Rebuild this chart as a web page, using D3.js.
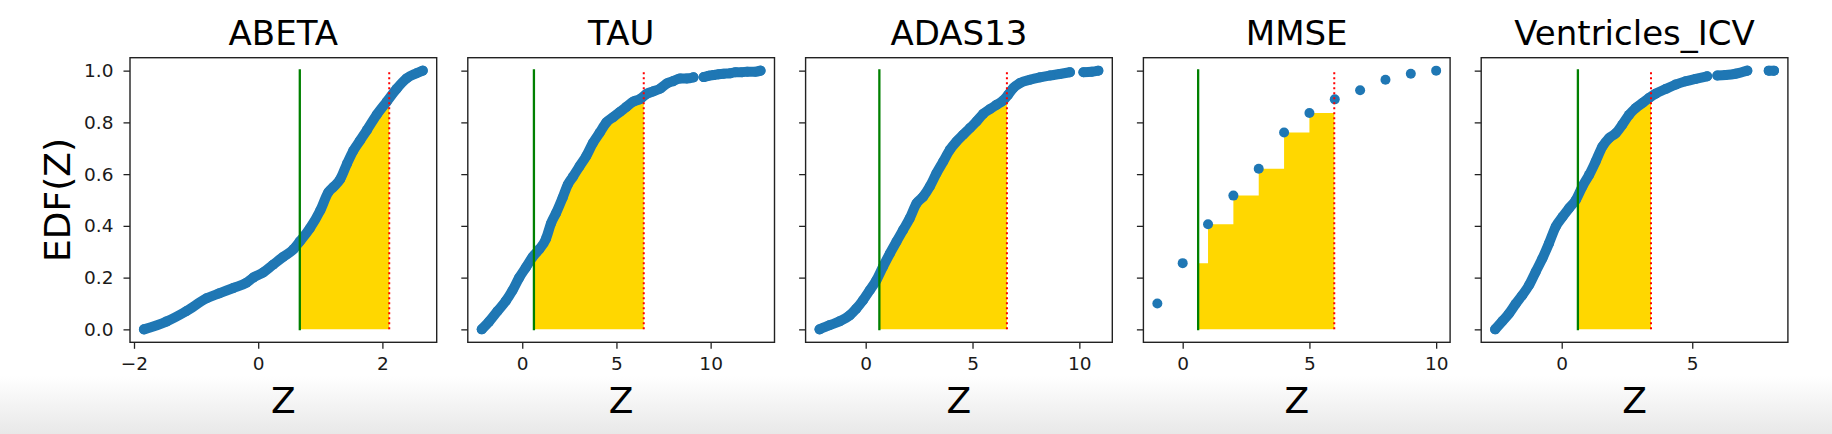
<!DOCTYPE html>
<html>
<head>
<meta charset="utf-8">
<script src="https://cdn.jsdelivr.net/npm/d3@7"></script>
<style>
body { margin: 0; background: #fff; overflow: hidden; }
svg text { font-family: "DejaVu Sans", sans-serif; }
</style>
</head>
<body>
<div class="graphHolder"></div>
<script>
const panelNames = ["ABETA", "TAU", "ADAS13", "MMSE", "Ventricles_ICV"];

const abetaZ = [-1.84, -1.48, -1.16, -0.83, -0.62, -0.40, -0.19, -0.08, 0.08, 0.24, 0.40, 0.57, 0.67, 0.83, 1.00, 1.13, 1.21, 1.32, 1.43, 1.53, 1.64, 1.75, 1.91, 2.07, 2.23, 2.39, 2.55, 2.65];
const abetaEdf = [0.00, 0.03, 0.07, 0.12, 0.14, 0.16, 0.18, 0.20, 0.22, 0.25, 0.28, 0.31, 0.34, 0.39, 0.46, 0.53, 0.55, 0.58, 0.64, 0.69, 0.73, 0.77, 0.83, 0.88, 0.93, 0.97, 0.99, 1.00];

const tauZ = [-2.15, -1.76, -1.32, -0.87, -0.52, -0.16, 0.20, 0.55, 0.91, 1.26, 1.53, 1.80, 2.15, 2.42, 2.69, 3.04, 3.40, 3.75, 4.11, 4.47, 4.82, 5.18, 5.53, 5.89, 6.25, 6.60, 6.96, 7.31, 7.67, 8.03, 8.38, 8.74, 9.09, 9.63, 9.89, 10.16, 10.43, 10.69, 11.05, 11.32, 11.67, 11.94, 12.38, 12.65];
const tauEdf = [0.00, 0.03, 0.07, 0.11, 0.15, 0.20, 0.24, 0.28, 0.31, 0.35, 0.41, 0.45, 0.51, 0.56, 0.59, 0.63, 0.67, 0.72, 0.76, 0.80, 0.82, 0.84, 0.86, 0.88, 0.89, 0.91, 0.92, 0.93, 0.95, 0.96, 0.97, 0.97, 0.974, 0.975, 0.98, 0.983, 0.986, 0.988, 0.99, 0.994, 0.994, 0.996, 0.996, 1.00];

const adasZ = [-2.16, -1.69, -1.22, -0.75, -0.44, -0.13, 0.19, 0.50, 0.81, 1.13, 1.44, 1.75, 2.06, 2.38, 2.69, 3.00, 3.31, 3.63, 3.94, 4.25, 4.56, 4.88, 5.19, 5.50, 5.81, 6.13, 6.44, 6.67, 6.91, 7.22, 7.69, 8.16, 8.63, 9.09, 9.56, 10.19, 10.58, 10.89];
const adasEdf = [0.00, 0.016, 0.031, 0.054, 0.08, 0.112, 0.151, 0.19, 0.242, 0.293, 0.339, 0.384, 0.429, 0.487, 0.513, 0.552, 0.603, 0.649, 0.694, 0.726, 0.752, 0.778, 0.804, 0.833, 0.851, 0.868, 0.885, 0.907, 0.933, 0.952, 0.965, 0.974, 0.981, 0.987, 0.994, 0.994, 0.996, 1.00];

const mmseZ = [-1, 0, 1, 2, 3, 4, 5, 6, 7, 8, 9, 10];
const mmseEdf = [0.10, 0.256, 0.406, 0.517, 0.621, 0.761, 0.836, 0.889, 0.924, 0.965, 0.988, 1.00];

const ventZ = [-2.55, -2.27, -2.02, -1.76, -1.51, -1.25, -1.00, -0.74, -0.49, -0.23, 0.03, 0.28, 0.54, 0.79, 1.05, 1.30, 1.56, 1.81, 2.07, 2.32, 2.58, 2.83, 3.09, 3.34, 3.60, 3.98, 4.36, 4.75, 5.13, 5.57, 5.96, 6.28, 6.66, 7.11, 7.93, 8.13];
const ventEdf = [0.00, 0.032, 0.061, 0.099, 0.132, 0.171, 0.222, 0.274, 0.332, 0.397, 0.435, 0.468, 0.50, 0.552, 0.597, 0.649, 0.707, 0.739, 0.758, 0.791, 0.829, 0.855, 0.875, 0.894, 0.911, 0.929, 0.946, 0.959, 0.968, 0.978, 0.981, 0.983, 0.988, 1.00, 1.00, 1.00];

const panelZ = [abetaZ, tauZ, adasZ, mmseZ, ventZ];
const panelEdf = [abetaEdf, tauEdf, adasEdf, mmseEdf, ventEdf];

// green (lower) and red dotted (upper) cut-offs
const lowerCut = [0.67, 0.62, 0.64, 0.61, 0.62];
const upperCut = [2.11, 6.45, 6.61, 5.98, 3.42];

// z values where the dot band breaks apart
const bandGaps = [[], [9.35], [9.85], [], [5.75, 7.5]];
const joinBand = [true, true, true, false, true];
const stepFill = [false, false, false, true, false];

const xTickValues = [[-2, 0, 2], [0, 5, 10], [0, 5, 10], [0, 5, 10], [0, 5]];
const yTickValues = [0, 0.2, 0.4, 0.6, 0.8, 1.0];

let w = 1832,
  h = 434,
  left0 = 130,
  top0 = 57.7,
  panelW = 306.7,
  panelH = 284.6,
  step = 337.8,
  dotR = 5,
  blue = "#1f77b4";

let svg = d3.select(".graphHolder")
  .append("svg")
  .attr("width", w)
  .attr("height", h);

// grey fade at the bottom edge of the screenshot
let grad = svg.append("defs").append("linearGradient")
  .attr("id", "fade").attr("x1", 0).attr("y1", 0).attr("x2", 0).attr("y2", 1);
grad.append("stop").attr("offset", "0%").attr("stop-color", "#ffffff");
grad.append("stop").attr("offset", "100%").attr("stop-color", "#e8e8e8");
svg.append("rect")
  .attr("x", 0).attr("y", 376)
  .attr("width", w).attr("height", h - 376)
  .attr("fill", "url(#fade)");

let yScale = d3.scaleLinear().domain([-0.05, 1.05]).range([panelH, 0]);

panelNames.forEach((name, i) => {
  let zs = panelZ[i], es = panelEdf[i];
  let pts = zs.map((z, j) => [z, es[j]]);
  let zMin = d3.min(zs), zMax = d3.max(zs), pad = (zMax - zMin) * 0.05;

  let xScale = d3.scaleLinear()
    .domain([zMin - pad, zMax + pad])
    .range([0, panelW]);

  let g = svg.append("g")
    .attr("transform", "translate(" + (left0 + i * step) + "," + top0 + ")");

  // shaded area between the two cut-offs
  let lo = lowerCut[i], hi = upperCut[i];
  let edfAt = z => {
    let j = d3.bisectRight(zs, z);
    if (stepFill[i]) return j > 0 ? es[j - 1] : 0;
    if (j == 0) return es[0];
    if (j >= zs.length) return es[es.length - 1];
    let t = (z - zs[j - 1]) / (zs[j] - zs[j - 1]);
    return es[j - 1] + t * (es[j] - es[j - 1]);
  };
  let fillPts = [[lo, edfAt(lo)]]
    .concat(pts.filter(p => p[0] > lo && p[0] < hi))
    .concat([[hi, edfAt(hi)]]);

  let area = d3.area()
    .x(d => xScale(d[0]))
    .y0(yScale(0))
    .y1(d => yScale(d[1]))
    .curve(stepFill[i] ? d3.curveStepAfter : d3.curveMonotoneX);

  g.append("path")
    .attr("d", area(fillPts))
    .attr("fill", "#ffd700");

  // EDF dots, joined where the real points sit shoulder to shoulder
  if (joinBand[i]) {
    let runs = [[]];
    pts.forEach((p, j) => {
      if (j > 0 && bandGaps[i].some(gz => zs[j - 1] < gz && gz < p[0])) runs.push([]);
      runs[runs.length - 1].push(p);
    });
    let line = d3.line()
      .x(d => xScale(d[0]))
      .y(d => yScale(d[1]))
      .curve(d3.curveMonotoneX);
    runs.forEach(r => {
      g.append("path")
        .attr("d", line(r))
        .attr("fill", "none")
        .attr("stroke", blue)
        .attr("stroke-width", dotR * 2)
        .attr("stroke-linecap", "round")
        .attr("stroke-linejoin", "round");
    });
  }

  g.selectAll("circle")
    .data(pts)
    .enter()
    .append("circle")
    .attr("cx", d => xScale(d[0]))
    .attr("cy", d => yScale(d[1]))
    .attr("r", dotR)
    .attr("fill", blue);

  g.append("line")
    .attr("x1", xScale(lo)).attr("x2", xScale(lo))
    .attr("y1", yScale(0) + 1).attr("y2", yScale(1) - 1.5)
    .attr("stroke", "green")
    .attr("stroke-width", 2.3);

  g.append("line")
    .attr("x1", xScale(hi)).attr("x2", xScale(hi))
    .attr("y1", yScale(0)).attr("y2", yScale(1))
    .attr("stroke", "red")
    .attr("stroke-width", 2)
    .attr("stroke-dasharray", "2,3");

  // axes
  let xAxis = d3.axisBottom(xScale)
    .tickValues(xTickValues[i])
    .tickFormat(d3.format("d"))
    .tickSize(6.5)
    .tickPadding(8.5);

  let yAxis = d3.axisLeft(yScale)
    .tickValues(yTickValues)
    .tickFormat(i == 0 ? d3.format(".1f") : "")
    .tickSize(6.5)
    .tickPadding(10);

  let xg = g.append("g")
    .attr("transform", "translate(0," + panelH + ")")
    .call(xAxis);
  let yg = g.append("g").call(yAxis);

  [xg, yg].forEach(a => {
    a.select(".domain").remove();
    a.selectAll(".tick line").attr("stroke", "#222").attr("stroke-width", 1.3);
    a.selectAll(".tick text")
      .attr("fill", "#1a1a1a")
      .style("font-size", "18.5px");
  });

  g.append("rect")
    .attr("width", panelW)
    .attr("height", panelH)
    .attr("fill", "none")
    .attr("stroke", "#222")
    .attr("stroke-width", 1.4);

  g.append("text")
    .attr("x", panelW / 2)
    .attr("y", 45 - top0)
    .attr("text-anchor", "middle")
    .style("font-size", "34px")
    .attr("fill", "#000")
    .text(name);

  g.append("text")
    .attr("x", panelW / 2)
    .attr("y", 413 - top0)
    .attr("text-anchor", "middle")
    .style("font-size", "36px")
    .attr("fill", "#000")
    .text("Z");

  if (i == 0) {
    g.append("text")
      .attr("transform", "translate(" + (70 - left0) + "," + (panelH / 2) + ") rotate(-90)")
      .attr("text-anchor", "middle")
      .style("font-size", "36px")
      .attr("fill", "#000")
      .text("EDF(Z)");
  }
});
</script>
</body>
</html>
